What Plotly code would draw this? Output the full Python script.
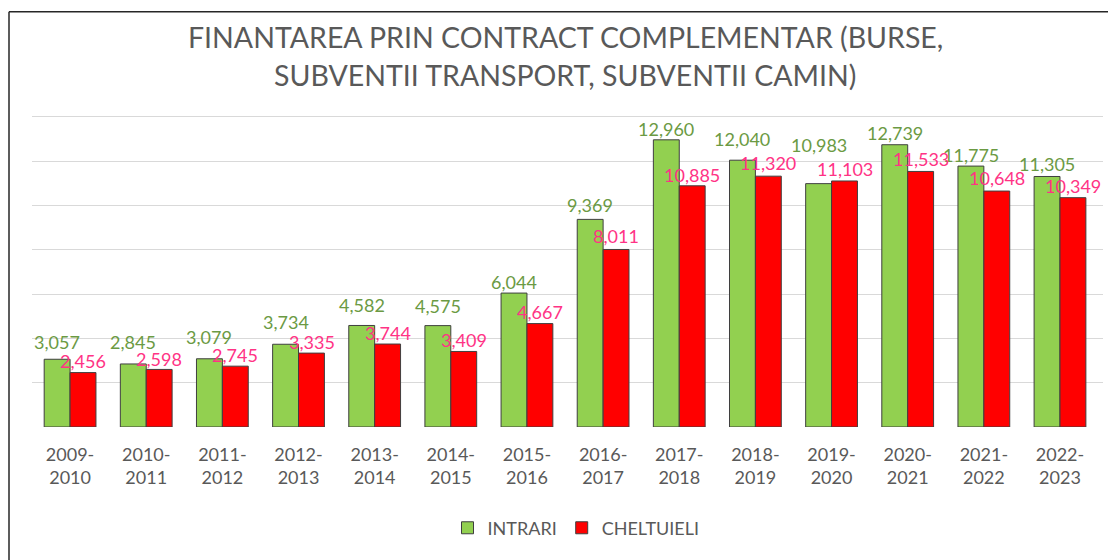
import plotly.graph_objects as go

categories = ["2009-<br>2010", "2010-<br>2011", "2011-<br>2012", "2012-<br>2013", "2013-<br>2014",
              "2014-<br>2015", "2015-<br>2016", "2016-<br>2017", "2017-<br>2018", "2018-<br>2019",
              "2019-<br>2020", "2020-<br>2021", "2021-<br>2022", "2022-<br>2023"]
intrari = [3057, 2845, 3079, 3734, 4582, 4575, 6044, 9369, 12960, 12040, 10983, 12739, 11775, 11305]
cheltuieli = [2456, 2598, 2745, 3335, 3744, 3409, 4667, 8011, 10885, 11320, 11103, 11533, 10648, 10349]

# label lift above bar top (px), as placed in the reference
green_lift = [17, 22, 22, 22, 20, 20, 11, 14, 11, 21, 39, 12, 11, 12]
red_lift = [12, 10, 11, 11, 11, 11, 12, 13, 11, 13, 12, 12, 13, 12]

FONT = "Lato"
GRAY = "#595959"
GREEN_TXT = "#6B9A43"
PINK_TXT = "#FF3385"

# page is rendered with an 8px body offset; design in page pixels, convert here
OFF = 8
YMAX = 14080
W, H = 1116 - OFF, 560 - OFF
L, R, B = 32 - OFF, 13, 560 - 427
ph = 310 * YMAX / 14000
T = H - B - ph
pw = W - L - R
BARGAP = 0.32
half_bar = (pw / len(categories)) * (1 - BARGAP) / 4

def px_x(p):
    return (p - OFF - L) / pw

def px_y(p):
    return (H - B - (p - OFF)) / ph

fig = go.Figure()
fig.add_bar(x=categories, y=intrari, name="INTRARI",
            marker=dict(color="#92D050", line=dict(color="#3F3F3F", width=1)))
fig.add_bar(x=categories, y=cheltuieli, name="CHELTUIELI",
            marker=dict(color="#FF0000", line=dict(color="#3F3F3F", width=1)))

annotations = []
for c, v, lift in zip(categories, intrari, green_lift):
    annotations.append(dict(x=c, y=v, xref="x", yref="y", text=f"{v:,}", showarrow=False,
                            xanchor="center", yanchor="middle", xshift=-half_bar, yshift=lift,
                            font=dict(size=18, color=GREEN_TXT, family=FONT)))
for c, v, lift in zip(categories, cheltuieli, red_lift):
    annotations.append(dict(x=c, y=v, xref="x", yref="y", text=f"{v:,}", showarrow=False,
                            xanchor="center", yanchor="middle", xshift=half_bar, yshift=lift,
                            font=dict(size=18, color=PINK_TXT, family=FONT)))

annotations += [
    dict(text="FINANTAREA PRIN CONTRACT COMPLEMENTAR (BURSE,", xref="paper", yref="paper",
         x=px_x(565), y=px_y(37), xanchor="center", yanchor="middle", showarrow=False,
         font=dict(size=28.5, color=GRAY, family=FONT)),
    dict(text="SUBVENTII TRANSPORT, SUBVENTII CAMIN)", xref="paper", yref="paper",
         x=px_x(565), y=px_y(75), xanchor="center", yanchor="middle", showarrow=False,
         font=dict(size=28.5, color=GRAY, family=FONT)),
]

fig.update_layout(
    width=W, height=H,
    margin=dict(l=L, r=R, t=T, b=B),
    paper_bgcolor="white", plot_bgcolor="white",
    barmode="group", bargap=BARGAP, bargroupgap=0,
    font=dict(family=FONT, color=GRAY),
    showlegend=True,
    legend=dict(orientation="h", x=px_x(576), xanchor="center", y=px_y(528), yanchor="middle",
                font=dict(size=18, color=GRAY, family=FONT), traceorder="normal"),
    xaxis=dict(showgrid=False, showline=False, ticks="", ticklabelstandoff=15,
               tickfont=dict(size=18, color=GRAY, family=FONT)),
    yaxis=dict(range=[0, YMAX], tickvals=[2000, 4000, 6000, 8000, 10000, 12000, 14000],
               showticklabels=False, showgrid=True,
               gridcolor="#D9D9D9", gridwidth=1, zeroline=False, showline=False),
    annotations=annotations,
    shapes=[
        dict(type="line", xref="paper", yref="paper", x0=px_x(9), x1=px_x(1130),
             y0=px_y(12), y1=px_y(12), line=dict(color="#262626", width=1.5)),
        dict(type="line", xref="paper", yref="paper", x0=px_x(9), x1=px_x(9),
             y0=px_y(12), y1=px_y(570), line=dict(color="#262626", width=1.5)),
    ],
)

fig.write_html("out.html")
